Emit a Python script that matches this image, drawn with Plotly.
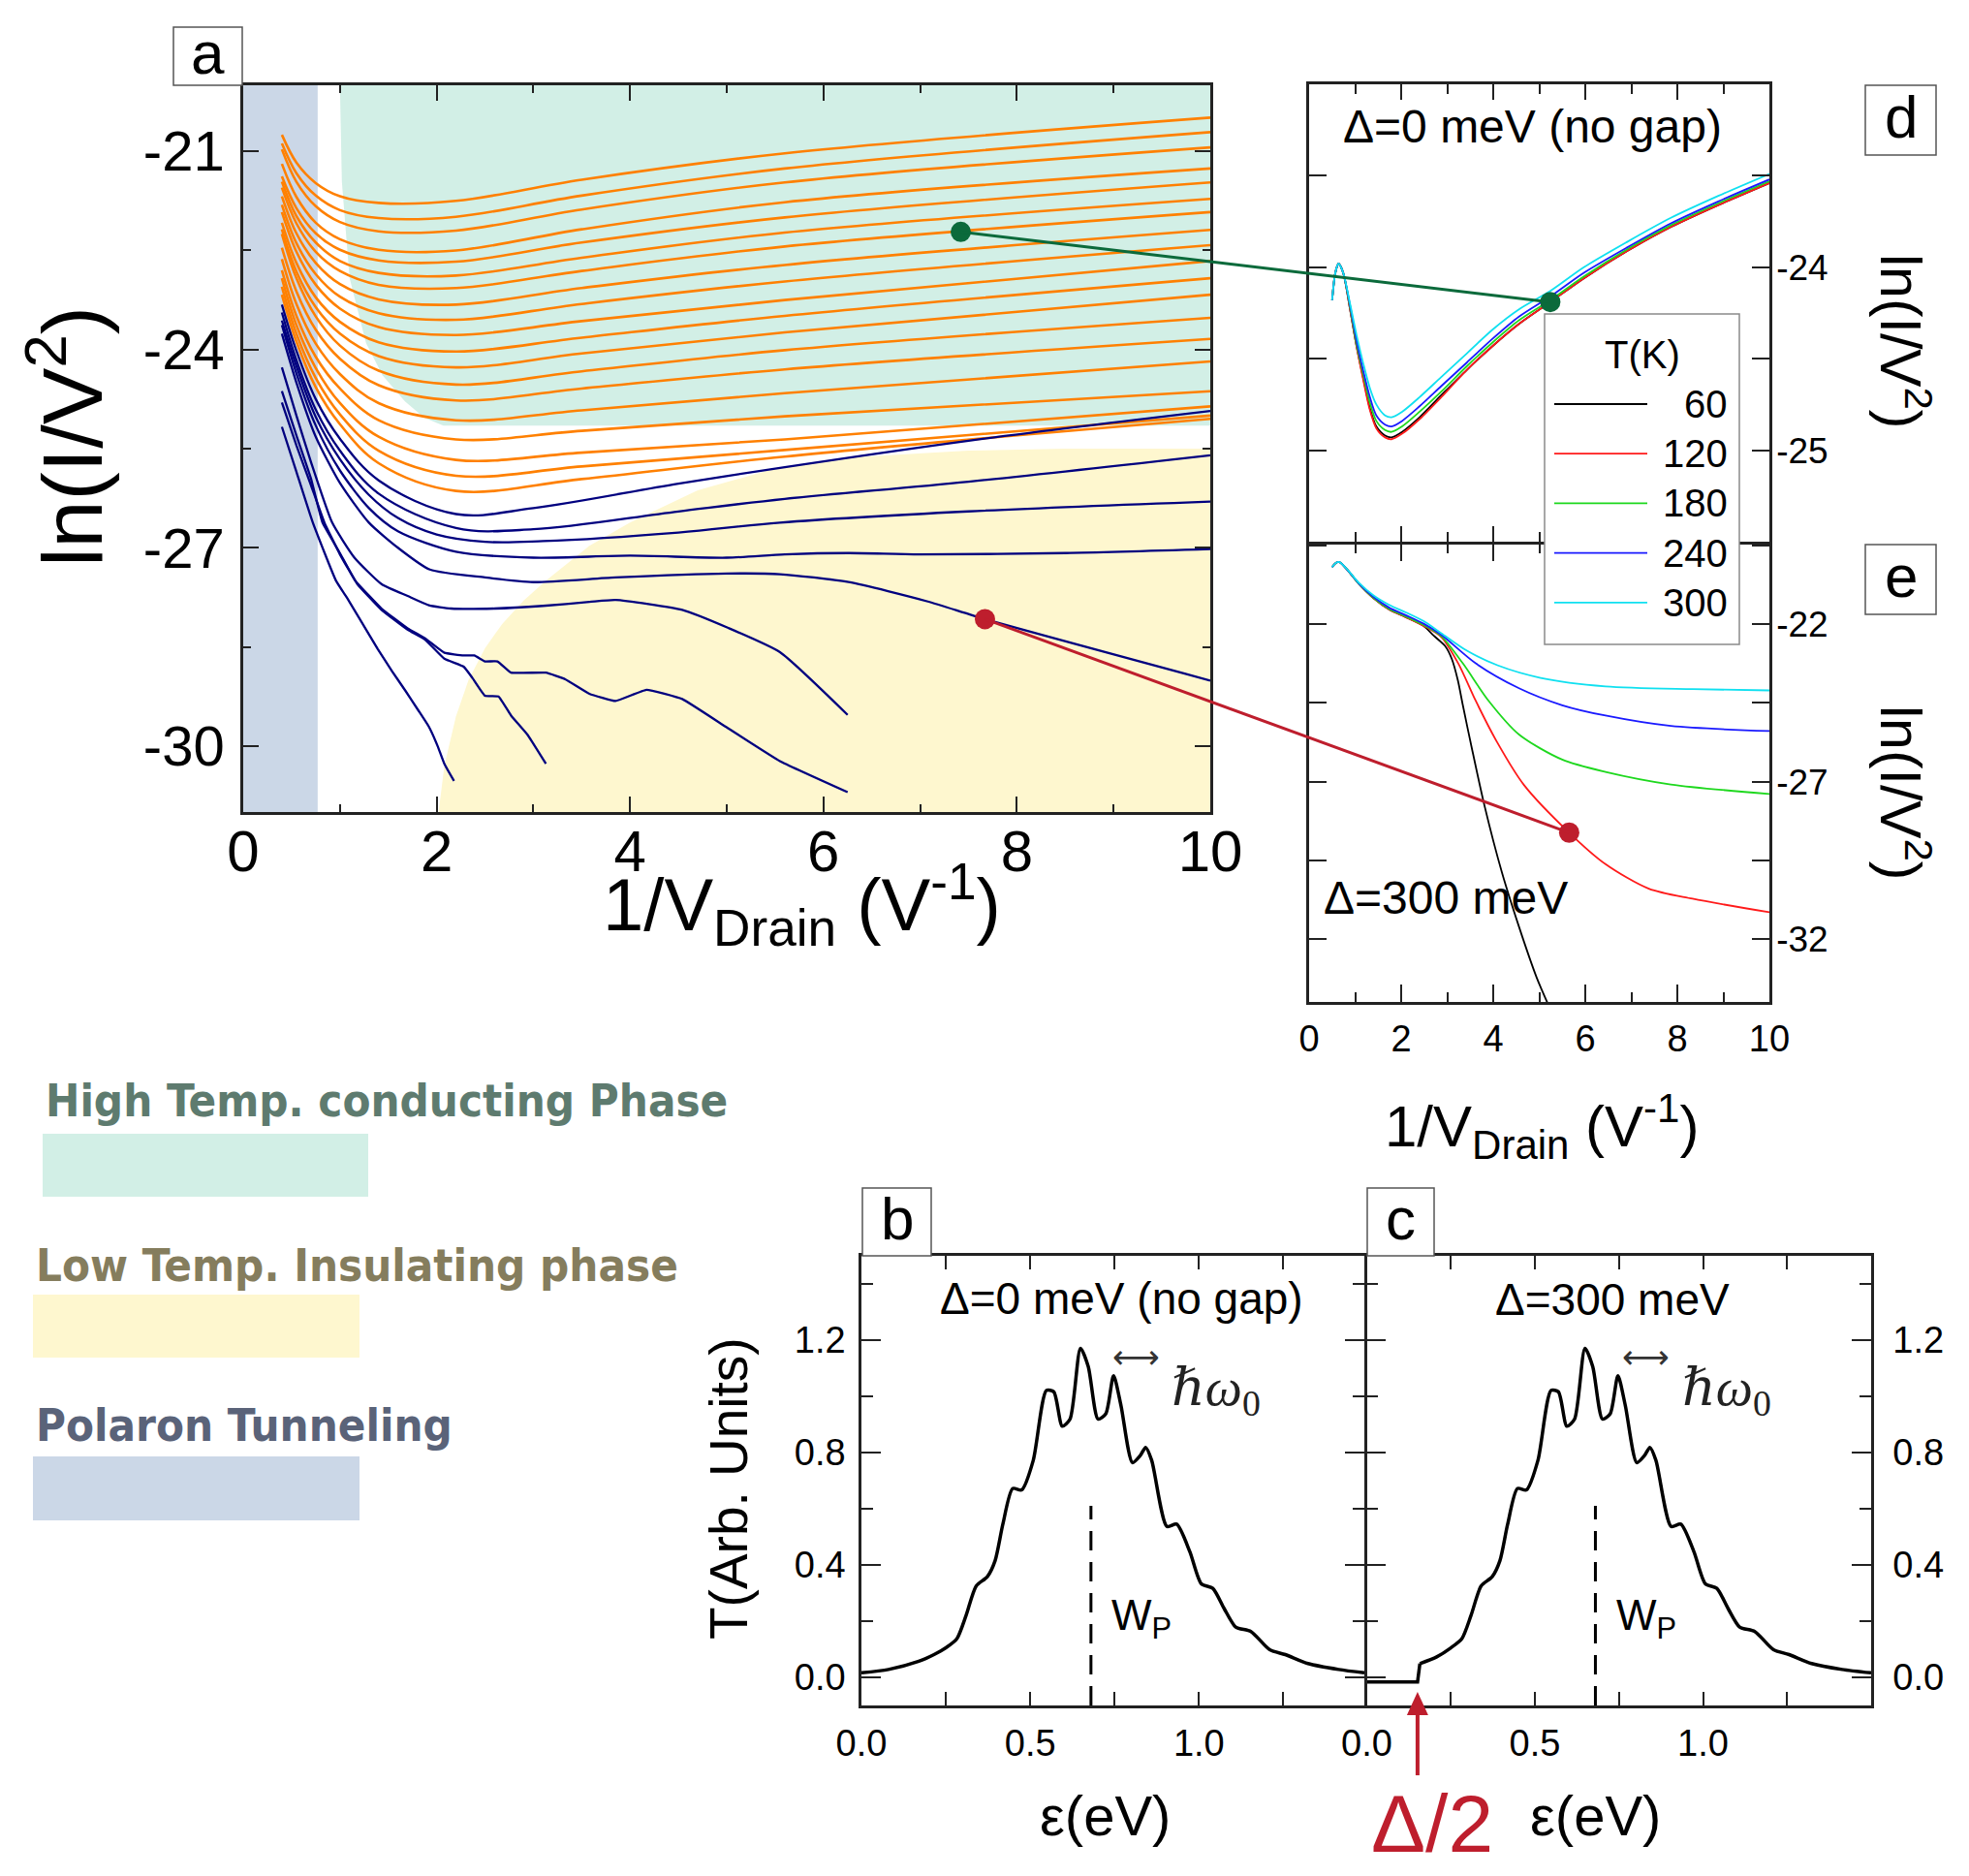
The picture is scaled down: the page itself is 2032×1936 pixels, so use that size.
import plotly.graph_objects as go

OFF = 8                      # page body margin of the html page
W, H = 2032 - OFF, 1936 - OFF
FONT = "Liberation Sans, Arial, Helvetica, sans-serif"
BOLDC = "DejaVu Sans Condensed, DejaVu Sans, sans-serif"
SERIF = "Liberation Serif, DejaVu Serif, serif"
INK = "#222222"
ORANGE = "#ff8000"
NAVY = "#00007f"
GREEN_DOT = "#0b6a3b"
RED_DOT = "#be1e2d"

## PANEL a : ln(I/V^2) vs 1/V (measured) ##
orange_x = [0.4, 0.55, 0.75, 1.0, 1.4, 2.2, 3.5, 5.6, 10.0]
orange_y = [
    [-20.75, -21.17, -21.48, -21.68, -21.78, -21.75, -21.43, -21.03, -20.49],
    [-20.88, -21.33, -21.67, -21.89, -22.01, -21.99, -21.67, -21.26, -20.71],
    [-20.97, -21.46, -21.83, -22.07, -22.21, -22.20, -21.88, -21.47, -20.94],
    [-21.19, -21.69, -22.08, -22.33, -22.49, -22.50, -22.18, -21.77, -21.26],
    [-21.38, -21.86, -22.24, -22.49, -22.65, -22.67, -22.38, -22.00, -21.47],
    [-21.46, -21.98, -22.38, -22.66, -22.84, -22.88, -22.61, -22.23, -21.72],
    [-21.55, -22.09, -22.52, -22.81, -23.02, -23.07, -22.81, -22.44, -21.92],
    [-21.68, -22.24, -22.69, -23.01, -23.24, -23.32, -23.07, -22.72, -22.19],
    [-21.81, -22.39, -22.86, -23.20, -23.45, -23.55, -23.31, -22.97, -22.42],
    [-21.92, -22.52, -23.02, -23.38, -23.66, -23.78, -23.57, -23.25, -22.66],
    [-22.08, -22.69, -23.21, -23.58, -23.89, -24.03, -23.82, -23.49, -22.92],
    [-22.18, -22.82, -23.36, -23.76, -24.10, -24.27, -24.06, -23.74, -23.17],
    [-22.25, -22.92, -23.50, -23.94, -24.32, -24.53, -24.33, -24.01, -23.52],
    [-22.46, -23.12, -23.70, -24.14, -24.54, -24.77, -24.59, -24.30, -23.84],
    [-22.63, -23.31, -23.91, -24.37, -24.81, -25.07, -24.92, -24.66, -24.18],
    [-22.80, -23.49, -24.11, -24.59, -25.07, -25.36, -25.23, -25.01, -24.63],
    [-22.92, -23.63, -24.28, -24.81, -25.32, -25.67, -25.56, -25.36, -24.86],
    [-23.05, -23.76, -24.43, -24.98, -25.53, -25.91, -25.77, -25.52, -25.00],
    [-23.17, -23.88, -24.57, -25.13, -25.72, -26.14, -25.96, -25.62, -25.05],
]
navy_x = [
    [0.4, 0.55, 0.75, 1.0, 1.4, 2.2, 3.0, 4.5, 5.6, 7.5, 10],
    [0.4, 0.55, 0.75, 1.0, 1.4, 2.2, 3.0, 4.5, 5.6, 7.5, 10],
    [0.4, 0.55, 0.75, 1.0, 1.3, 1.6, 2.0, 2.5, 3.1, 4.5, 5.55, 7.5, 10],
    [0.4, 0.55, 0.75, 1.0, 1.3, 1.6, 2.2, 3.0, 4.0, 5.0, 5.6, 6.26, 7.0, 8.5, 10],
    [0.4, 0.55, 0.75, 1.0, 1.3, 1.6, 1.93, 2.5, 3.0, 3.85, 5.0, 5.55, 6.26, 7.07, 7.67, 10],
    [0.4, 0.55, 0.7, 0.92, 1.15, 1.43, 1.7, 1.92, 2.15, 2.6, 3.1, 3.58, 3.85, 4.54, 5.01, 5.55, 6.25],
    [0.4, 0.55, 0.7, 0.82, 1.0, 1.16, 1.43, 1.70, 1.88, 2.08, 2.28, 2.39, 2.50, 2.63, 2.77, 3.13,
     3.33, 3.58, 3.85, 4.17, 4.54, 4.99, 5.55, 6.25],
    [0.4, 0.55, 0.7, 0.84, 1.0, 1.18, 1.43, 1.70, 1.88, 2.08, 2.28, 2.37, 2.50, 2.64, 2.77, 2.94, 3.13],
    [0.4, 0.55, 0.72, 0.96, 1.07, 1.21, 1.39, 1.54, 1.68, 1.81, 1.92, 2.01, 2.08, 2.18],
]
navy_y = [
    [-23.32, -24.02, -24.75, -25.35, -25.98, -26.49, -26.40, -26.03, -25.78, -25.38, -24.93],
    [-23.44, -24.16, -24.91, -25.53, -26.18, -26.70, -26.72, -26.45, -26.26, -26.00, -25.60],
    [-23.56, -24.25, -25.02, -25.66, -26.20, -26.55, -26.80, -26.91, -26.90, -26.77, -26.62, -26.45, -26.30],
    [-23.63, -24.36, -25.15, -25.83, -26.40, -26.75, -27.06, -27.15, -27.12, -27.15, -27.10, -27.08, -27.10, -27.08, -27.02],
    [-23.76, -24.50, -25.32, -26.02, -26.62, -27.00, -27.33, -27.45, -27.52, -27.45, -27.39, -27.40, -27.52, -27.81, -28.08, -29.01],
    [-24.27, -25.00, -25.70, -26.62, -27.15, -27.55, -27.73, -27.87, -27.92, -27.92, -27.88, -27.82, -27.79, -27.94, -28.21, -28.58, -29.53],
    [-24.63, -25.30, -25.95, -26.62, -27.08, -27.50, -27.92, -28.22, -28.37, -28.59, -28.63, -28.63, -28.72, -28.72, -28.89, -28.89,
     -28.99, -29.21, -29.32, -29.15, -29.29, -29.71, -30.23, -30.70],
    [-24.80, -25.45, -26.05, -26.62, -27.10, -27.55, -27.94, -28.24, -28.39, -28.68, -28.80, -28.97, -29.24, -29.25, -29.54, -29.83, -30.27],
    [-25.17, -25.85, -26.62, -27.50, -27.75, -28.09, -28.53, -28.87, -29.17, -29.46, -29.71, -30.00, -30.27, -30.53],
]
navy_smooth = [1.0, 1.0, 1.0, 0.8, 0.6, 0.5, 0.3, 0.3, 0.4]

## PHASE REGIONS (panel a) ##
polaron_edge = 0.77
teal_x = [1.0, 1.02, 1.10, 1.27, 1.44, 1.67, 1.87, 2.07, 10, 10]
teal_y = [-20.0, -21.46, -22.92, -23.9, -24.39, -24.78, -25.03, -25.15, -25.15, -20.0]
yellow_x = [2.02, 2.08, 2.2, 2.33, 2.5, 2.68, 2.9, 3.13, 3.58, 4.0, 4.7, 5.5, 6.2, 7.5, 8.5, 10, 10]
yellow_y = [-31.0, -30.3, -29.55, -29.0, -28.52, -28.15, -27.8, -27.5, -26.97, -26.62, -26.13,
            -25.8, -25.64, -25.53, -25.5, -25.5, -31.0]
phase_names = ["High Temp. conducting Phase", "Low Temp. Insulating phase", "Polaron Tunneling"]
phase_fill = ["#d2efe6", "#fef7cf", "#cbd7e7"]
phase_text = ["#5e7b6f", "#857d5d", "#5a6379"]

## PANELS d / e : model curves for several temperatures ##
temps = [60, 120, 180, 240, 300]
t_colors = ["#000000", "#ff1a1a", "#1ed81e", "#1a1aff", "#10e0f0"]
d_x = [0.5, 0.57, 0.64, 0.74, 0.89, 1.03, 1.18, 1.32, 1.46, 1.65, 1.79, 2.02, 2.4, 2.87,
       3.43, 3.99, 4.56, 5.24, 5.97, 6.92, 7.86, 8.89, 10]
d_y = [
    [-24.18, -24.03, -23.98, -24.03, -24.23, -24.43, -24.61, -24.77, -24.87, -24.92, -24.93, -24.90,
     -24.82, -24.70, -24.56, -24.43, -24.31, -24.19, -24.06, -23.91, -23.78, -23.66, -23.54],
    [-24.18, -24.03, -23.98, -24.03, -24.23, -24.43, -24.62, -24.78, -24.88, -24.93, -24.94, -24.91,
     -24.83, -24.71, -24.56, -24.43, -24.31, -24.19, -24.06, -23.91, -23.78, -23.66, -23.54],
    [-24.18, -24.03, -23.98, -24.03, -24.22, -24.42, -24.59, -24.74, -24.84, -24.89, -24.90, -24.87,
     -24.79, -24.68, -24.54, -24.41, -24.29, -24.18, -24.05, -23.90, -23.77, -23.65, -23.53],
    [-24.18, -24.03, -23.98, -24.03, -24.21, -24.40, -24.57, -24.71, -24.81, -24.86, -24.87, -24.84,
     -24.76, -24.65, -24.52, -24.39, -24.27, -24.16, -24.03, -23.89, -23.76, -23.64, -23.52],
    [-24.18, -24.03, -23.98, -24.03, -24.20, -24.37, -24.53, -24.66, -24.75, -24.81, -24.82, -24.79,
     -24.71, -24.60, -24.47, -24.34, -24.23, -24.13, -24.00, -23.86, -23.73, -23.61, -23.49],
]
e_x = [
    [0.5, 0.58, 0.66, 0.85, 1.08, 1.4, 1.74, 2.1, 2.49, 2.7, 2.96, 3.10, 3.23, 3.34, 3.53, 3.81, 4.19, 4.56, 4.94, 5.2],
    [0.5, 0.58, 0.66, 0.85, 1.08, 1.4, 1.74, 2.1, 2.49, 2.87, 3.24, 3.62, 4.09, 4.66, 5.65, 6.44, 7.38, 8.33, 10],
    [0.5, 0.58, 0.66, 0.85, 1.08, 1.4, 1.74, 2.1, 2.49, 2.87, 3.34, 3.90, 4.56, 5.5, 6.44, 7.86, 10],
    [0.5, 0.58, 0.66, 0.85, 1.08, 1.4, 1.74, 2.1, 2.49, 2.87, 3.62, 4.56, 5.5, 6.44, 7.86, 10],
    [0.5, 0.58, 0.66, 0.85, 1.08, 1.4, 1.74, 2.1, 2.49, 2.87, 3.43, 4.09, 5.03, 6.44, 8.33, 10],
]
e_y = [
    [-20.18, -20.05, -20.02, -20.30, -20.71, -21.17, -21.53, -21.77, -22.05, -22.35, -22.70, -23.10,
     -23.77, -24.57, -25.90, -27.76, -29.89, -31.61, -33.21, -34.10],
    [-20.18, -20.05, -20.02, -20.30, -20.71, -21.17, -21.53, -21.77, -22.05, -22.40, -23.24, -24.43,
     -25.76, -27.09, -28.62, -29.62, -30.40, -30.72, -31.15],
    [-20.18, -20.05, -20.02, -20.30, -20.71, -21.16, -21.51, -21.75, -22.02, -22.37, -23.24, -24.43,
     -25.50, -26.30, -26.69, -27.09, -27.39],
    [-20.18, -20.05, -20.02, -20.30, -20.70, -21.13, -21.47, -21.71, -21.98, -22.33, -23.24, -24.03,
     -24.57, -24.90, -25.23, -25.39],
    [-20.18, -20.05, -20.02, -20.29, -20.68, -21.08, -21.38, -21.62, -21.90, -22.28, -22.84, -23.30,
     -23.70, -23.97, -24.06, -24.10],
]

## CONNECTOR POINTS (a -> d, a -> e) ##
green_a = (7.42, -22.22)
green_d = (5.24, -24.19)
red_a = (7.67, -28.08)
red_e = (5.65, -28.62)

## PANELS b / c : transmission T(eps) ##
b_eps = [0.0, 0.08, 0.17, 0.215, 0.25, 0.283, 0.31, 0.34, 0.373, 0.396, 0.419, 0.448, 0.475, 0.509,
         0.548, 0.57, 0.595, 0.618, 0.649, 0.672, 0.701, 0.724, 0.747, 0.769, 0.803, 0.826, 0.842,
         0.86, 0.905, 0.934, 0.973, 1.007, 1.041, 1.075, 1.109, 1.154, 1.21, 1.256, 1.323, 1.414, 1.49]
b_T = [0.016, 0.028, 0.057, 0.081, 0.105, 0.138, 0.22, 0.325, 0.358, 0.415, 0.545, 0.672, 0.667, 0.772,
       1.021, 1.016, 0.894, 0.919, 1.171, 1.106, 0.919, 0.938, 1.073, 0.967, 0.764, 0.789, 0.818,
       0.772, 0.537, 0.545, 0.447, 0.333, 0.317, 0.244, 0.179, 0.163, 0.098, 0.081, 0.049, 0.028, 0.016]
c_eps = [0.0, 0.151, 0.158, 0.208, 0.25, 0.283, 0.31, 0.34, 0.373, 0.396, 0.419, 0.448, 0.475, 0.509,
         0.548, 0.57, 0.595, 0.618, 0.649, 0.672, 0.701, 0.724, 0.747, 0.769, 0.803, 0.826, 0.842,
         0.86, 0.905, 0.934, 0.973, 1.007, 1.041, 1.075, 1.109, 1.154, 1.21, 1.256, 1.323, 1.414, 1.5]
c_T = [-0.016, -0.016, 0.049, 0.073, 0.105, 0.138, 0.22, 0.325, 0.358, 0.415, 0.545, 0.672, 0.667, 0.772,
       1.021, 1.016, 0.894, 0.919, 1.171, 1.106, 0.919, 0.938, 1.073, 0.967, 0.764, 0.789, 0.818,
       0.772, 0.537, 0.545, 0.447, 0.333, 0.317, 0.244, 0.179, 0.163, 0.098, 0.081, 0.049, 0.028, 0.016]
wp_eps = 0.68
wp_top = 0.61
half_gap = 0.151

## PANEL GEOMETRY (reference pixels: left, top, right, bottom) ##
# shared borders are shifted by one line width so the two axis lines coincide
BOX = {
    "a": (251, 88, 1249, 838),
    "d": (1351, 87, 1826, 559),
    "e": (1351, 561.5, 1826, 1034),
    "b": (889, 1296, 1408, 1760),
    "c": (1410.5, 1296, 1931, 1760),
}
RANGE = {
    "a": ([0, 10], [-31, -20]),
    "d": ([0, 10], [-25.5, -23]),
    "e": ([0, 10], [-34, -19.45]),
    "b": ([0, 1.49], [-0.1, 1.5]),
    "c": ([0, 1.5], [-0.1, 1.5]),
}
AX = {"a": ("x", "y"), "d": ("x2", "y2"), "e": ("x3", "y3"), "b": ("x4", "y4"), "c": ("x5", "y5")}


def pp(x, y):
    return (x - OFF) / W, 1 - (y - OFF) / H


def dom(k):
    l, t, r, b = BOX[k]
    x0, y1 = pp(l, t)
    x1, y0 = pp(r, b)
    return [x0, x1], [y0, y1]


def to_paper(k, xv, yv):
    (xd, yd), (xr, yr) = dom(k), RANGE[k]
    return (xd[0] + (xv - xr[0]) / (xr[1] - xr[0]) * (xd[1] - xd[0]),
            yd[0] + (yv - yr[0]) / (yr[1] - yr[0]) * (yd[1] - yd[0]))


fig = go.Figure()

## PANEL a TRACES ##
xa, ya = AX["a"]
fig.add_trace(go.Scatter(x=teal_x, y=teal_y, fill="toself", fillcolor=phase_fill[0], mode="none",
                         xaxis=xa, yaxis=ya, hoverinfo="skip"))
fig.add_trace(go.Scatter(x=yellow_x, y=yellow_y, fill="toself", fillcolor=phase_fill[1], mode="none",
                         xaxis=xa, yaxis=ya, hoverinfo="skip"))
for ys in orange_y:
    fig.add_trace(go.Scatter(x=orange_x, y=ys, mode="lines", xaxis=xa, yaxis=ya,
                             line=dict(color=ORANGE, width=2.6, shape="spline", smoothing=1.0)))
for xs, ys, sm in zip(navy_x, navy_y, navy_smooth):
    fig.add_trace(go.Scatter(x=xs, y=ys, mode="lines", xaxis=xa, yaxis=ya,
                             line=dict(color=NAVY, width=2.3, shape="spline", smoothing=sm)))

## PANELS d / e TRACES ##
for ys, col in zip(d_y, t_colors):
    fig.add_trace(go.Scatter(x=d_x, y=ys, mode="lines", xaxis="x2", yaxis="y2",
                             line=dict(color=col, width=1.8, shape="spline", smoothing=0.8)))
for xs, ys, col in zip(e_x, e_y, t_colors):
    fig.add_trace(go.Scatter(x=xs, y=ys, mode="lines", xaxis="x3", yaxis="y3",
                             line=dict(color=col, width=1.8, shape="spline", smoothing=0.8)))

## PANELS b / c TRACES ##
fig.add_trace(go.Scatter(x=b_eps, y=b_T, mode="lines", xaxis="x4", yaxis="y4",
                         line=dict(color="black", width=3.5, shape="spline", smoothing=0.7)))
fig.add_trace(go.Scatter(x=c_eps[:3], y=c_T[:3], mode="lines", xaxis="x5", yaxis="y5",
                         line=dict(color="black", width=3.5)))
fig.add_trace(go.Scatter(x=c_eps[2:], y=c_T[2:], mode="lines", xaxis="x5", yaxis="y5",
                         line=dict(color="black", width=3.5, shape="spline", smoothing=0.7)))
for k in ("b", "c"):
    fig.add_trace(go.Scatter(x=[wp_eps, wp_eps], y=[RANGE[k][1][0], wp_top], mode="lines",
                             xaxis=AX[k][0], yaxis=AX[k][1],
                             line=dict(color="black", width=3, dash="20px,12px")))

## CONNECTORS ##
shapes = [dict(type="rect", xref="x", yref="y domain", x0=0, x1=polaron_edge, y0=0, y1=1,
               fillcolor=phase_fill[2], line=dict(width=0), layer="below")]
for (ka, pa), (kb, pb), col in ((("a", green_a), ("d", green_d), GREEN_DOT),
                                (("a", red_a), ("e", red_e), RED_DOT)):
    x0, y0 = to_paper(ka, *pa)
    x1, y1 = to_paper(kb, *pb)
    shapes.append(dict(type="line", xref="paper", yref="paper", x0=x0, y0=y0, x1=x1, y1=y1,
                       line=dict(color=col, width=3), layer="above"))
dots = [("a", green_a, GREEN_DOT), ("d", green_d, GREEN_DOT), ("a", red_a, RED_DOT), ("e", red_e, RED_DOT)]
for k, p, col in dots:
    fig.add_trace(go.Scatter(x=[p[0]], y=[p[1]], mode="markers", xaxis=AX[k][0], yaxis=AX[k][1],
                             marker=dict(color=col, size=21, line=dict(width=0))))

## AXES ##
def axis(k, which, **kw):
    xd, yd = dom(k)
    xr, yr = RANGE[k]
    base = dict(domain=xd if which == "x" else yd, range=xr if which == "x" else yr,
                anchor=AX[k][1] if which == "x" else AX[k][0], automargin=False,
                showline=True, mirror="ticks", linecolor=INK, linewidth=2.5,
                ticks="inside", tickcolor=INK, tickwidth=2.2, showgrid=False, zeroline=False,
                tickfont=dict(family=FONT, size=38, color="black"), tickmode="array")
    base.update(kw)
    return base


def minor(dt, t0, ln):
    return dict(ticks="inside", tickmode="linear", dtick=dt, tick0=t0, ticklen=ln,
                tickwidth=2, tickcolor=INK, showgrid=False)


ya_vals = [-30, -27, -24, -21]
xa_vals = [0, 2, 4, 6, 8, 10]
layout_axes = dict(
    xaxis=axis("a", "x", tickvals=xa_vals, ticktext=[str(v) for v in xa_vals], ticklen=16,
               tickfont=dict(family=FONT, size=60, color="black"), ticklabelstandoff=-14,
               minor=minor(1, 0, 8)),
    yaxis=axis("a", "y", tickvals=ya_vals, ticktext=[str(v) for v in ya_vals], ticklen=16,
               tickfont=dict(family=FONT, size=58, color="black"), ticklabelstandoff=5,
               minor=minor(1.5, -30, 8)),
    xaxis2=axis("d", "x", tickvals=[0, 2, 4, 6, 8, 10], showticklabels=False, ticklen=16,
                minor=minor(1, 0, 10)),
    yaxis2=axis("d", "y", side="right", tickvals=[-25, -24], ticktext=["-25", "-24"], ticklen=18,
                ticklabelstandoff=-3, minor=minor(0.5, -25, 18),
                tickfont=dict(family=FONT, size=37, color="black")),
    xaxis3=axis("e", "x", tickvals=[0, 2, 4, 6, 8, 10], ticktext=["0", "2", "4", "6", "8", "10"],
                ticklen=18, ticklabelstandoff=3, minor=minor(1, 0, 10),
                tickfont=dict(family=FONT, size=38, color="black")),
    yaxis3=axis("e", "y", side="right", tickvals=[-32, -27, -22], ticktext=["-32", "-27", "-22"],
                ticklen=18, ticklabelstandoff=-3, minor=minor(2.5, -22, 18),
                tickfont=dict(family=FONT, size=37, color="black")),
    xaxis4=axis("b", "x", tickvals=[0, 0.5, 1.0], ticktext=["0.0", "0.5", "1.0"], ticklen=14,
                ticklabelstandoff=4, minor=minor(0.25, 0, 14)),
    yaxis4=axis("b", "y", tickvals=[0, 0.4, 0.8, 1.2], ticktext=["0.0", "0.4", "0.8", "1.2"],
                ticklen=20, ticklabelstandoff=6, minor=minor(0.2, 0, 12)),
    xaxis5=axis("c", "x", tickvals=[0, 0.5, 1.0], ticktext=["0.0", "0.5", "1.0"], ticklen=14,
                ticklabelstandoff=4, minor=minor(0.25, 0, 14)),
    yaxis5=axis("c", "y", side="right", tickvals=[0, 0.4, 0.8, 1.2],
                ticktext=["0.0", "0.4", "0.8", "1.2"], ticklen=20, ticklabelstandoff=12,
                minor=minor(0.2, 0, 12)),
)

annotations = []


def txt(text, x, y, size, angle=0, color="black", family=FONT, xanchor="center"):
    px_, py_ = pp(x, y)
    annotations.append(dict(text=text, x=px_, y=py_, xref="paper", yref="paper", showarrow=False,
                            textangle=angle, xanchor=xanchor, yanchor="middle",
                            font=dict(family=family, size=size, color=color)))


def rect(l, t, r, b, **kw):
    x0, y1 = pp(l, t)
    x1, y0 = pp(r, b)
    d = dict(type="rect", xref="paper", yref="paper", x0=x0, x1=x1, y0=y0, y1=y1, layer="above")
    d.update(kw)
    shapes.append(d)


## PANEL LETTER BOXES ##
letter_boxes = {"a": (179, 28, 250, 88), "d": (1925, 88, 1998, 160), "e": (1925, 562, 1998, 634),
                "b": (890, 1226, 961, 1296), "c": (1411, 1226, 1480, 1296)}
for k, (l, t, r, b) in letter_boxes.items():
    rect(l, t, r, b, line=dict(color="#555555", width=1.5), fillcolor="white")
    txt(k, (l + r) / 2, (t + b) / 2 - 4, 62)

## PHASE LEGEND (left) ##
phase_rects = [(44, 1170, 380, 1235), (34, 1336, 371, 1401), (34, 1503, 371, 1569)]
phase_text_pos = [(45, 1135), (35, 1305), (35, 1470)]
for name, fc, tc, box, (tx, ty) in zip(phase_names, phase_fill, phase_text, phase_rects, phase_text_pos):
    rect(*box, fillcolor=fc, line=dict(width=0))
    txt("<b>%s</b>" % name, tx, ty, 47, color=tc, family=BOLDC, xanchor="left")

## TEMPERATURE LEGEND (over d / e) ##
rect(1594, 324, 1795, 665, fillcolor="white", line=dict(color="#8a8a8a", width=1.5))
txt("T(K)", 1695, 366, 40)
for i, (t, col) in enumerate(zip(temps, t_colors)):
    yy = 417 + i * 51.2
    sx0, sy = pp(1604, yy)
    sx1, _ = pp(1700, yy)
    shapes.append(dict(type="line", xref="paper", yref="paper", x0=sx0, x1=sx1, y0=sy, y1=sy,
                       line=dict(color=col, width=1.8), layer="above"))
    txt(str(t), 1785, yy, 40, xanchor="right")

## TITLES AND TEXT ##
txt("ln(I/V<sup>2</sup>)", 68, 451, 88, angle=-90)
txt("1/V<sub>Drain</sub> (V<sup>-1</sup>)", 827, 933, 76)
txt("\u0394=0 meV (no gap)", 1581, 130, 48)
txt("\u0394=300 meV", 1492, 926, 48)
txt("ln(I/V<sup>2</sup>)", 1966, 352, 59, angle=90)
txt("ln(I/V<sup>2</sup>)", 1966, 818, 59, angle=90)
txt("1/V<sub>Drain</sub> (V<sup>-1</sup>)", 1591, 1162, 60)
txt("\u0394=0 meV (no gap)", 1157, 1340, 46)
txt("\u0394=300 meV", 1664, 1341, 46)
txt("T(Arb. Units)", 752, 1536, 55, angle=-90)
txt("\u03b5(eV)", 1140, 1873, 58)
txt("\u03b5(eV)", 1646, 1873, 58)
txt("\u0394/2", 1478, 1882, 84, color=RED_DOT)

for k, hx in (("b", 1.052), ("c", 1.07)):
    annotations.append(dict(text="<i>\u210f\u03c9</i><sub>0</sub>", x=hx, y=1.02, xref=AX[k][0], yref=AX[k][1],
                            showarrow=False, xanchor="center", yanchor="middle",
                            font=dict(family=SERIF, size=54, color="#222222")))
    annotations.append(dict(text="W<sub>P</sub>", x=wp_eps + 0.15, y=0.21, xref=AX[k][0], yref=AX[k][1],
                            showarrow=False, xanchor="center", yanchor="middle",
                            font=dict(family=FONT, size=44, color="black")))
    annotations.append(dict(text="\u27f7", x=0.815 + (0.015 if k == "c" else 0), y=1.14,
                            xref=AX[k][0], yref=AX[k][1], showarrow=False, xanchor="center",
                            yanchor="middle", font=dict(family="DejaVu Sans", size=34, color="#333333")))

## RED ARROW AT DELTA/2 ##
tipx, tipy = to_paper("c", half_gap, -0.052)
hw, hh, sl = 11 / W, 24 / H, 86 / H
shapes.append(dict(type="line", xref="paper", yref="paper", x0=tipx, x1=tipx, y0=tipy - hh + 2 / H,
                   y1=tipy - sl, line=dict(color=RED_DOT, width=4), layer="above"))
shapes.append(dict(type="path", xref="paper", yref="paper",
                   path="M %f,%f L %f,%f L %f,%f Z" % (tipx, tipy, tipx - hw, tipy - hh, tipx + hw, tipy - hh),
                   fillcolor=RED_DOT, line=dict(width=0), layer="above"))

fig.update_layout(
    width=W, height=H, margin=dict(l=0, r=0, t=0, b=0),
    paper_bgcolor="white", plot_bgcolor="rgba(0,0,0,0)", showlegend=False,
    shapes=shapes, annotations=annotations, font=dict(family=FONT),
    **layout_axes,
)
fig.write_html("out.html")
